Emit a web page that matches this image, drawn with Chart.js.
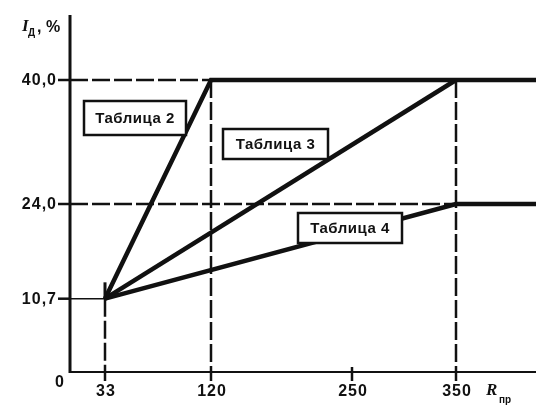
<!DOCTYPE html>
<html lang="ru">
<head>
<meta charset="UTF-8">
<title>I_Д vs R_пр</title>
<script src="https://cdn.jsdelivr.net/npm/chart.js"></script>
<style>
  html, body { margin: 0; padding: 0; background: #fff; }
  #wrap { width: 536px; height: 407px; }
</style>
</head>
<body>
<div id="wrap"><canvas id="chart" width="536" height="407"></canvas></div>
<script>
// values
const xTicks = [33, 120, 250, 350];
const xTickLabels = ['33', '120', '250', '350'];
const yTicks = [10.7, 24.0, 40.0];
const yTickLabels = ['10,7', '24,0', '40,0'];

const table2X = [33, 120, 440];
const table2Y = [10.7, 40.0, 40.0];
const table3X = [33, 350];
const table3Y = [10.7, 40.0];
const table4X = [33, 350, 440];
const table4Y = [10.7, 24.0, 24.0];

// the drawing is schematic: axes are not to scale, so each tick value gets a spot on the axis
const xAnchors = [0, 33, 120, 250, 350];
const xSpots   = [0, 35, 141, 282, 386];
const yAnchors = [0, 10.7, 24.0, 40.0];
const ySpots   = [0, 73.3, 168, 292];

function place(v, anchors, spots) {
  let i = 1;
  while (i < anchors.length - 1 && v > anchors[i]) i++;
  const a0 = anchors[i - 1], a1 = anchors[i];
  return spots[i - 1] + (v - a0) * (spots[i] - spots[i - 1]) / (a1 - a0);
}
const px = v => place(v, xAnchors, xSpots);
const py = v => place(v, yAnchors, ySpots);
const pts = (xs, ys) => xs.map((x, i) => ({ x: px(x), y: py(ys[i]) }));

const black = '#111';
const font = "bold 16px 'Liberation Sans', Arial, sans-serif";

function solid(data, w) {
  return { data, borderColor: black, borderWidth: w, pointRadius: 0, tension: 0, fill: false, borderCapStyle: 'butt' };
}
function dashed(data) {
  return { data, borderColor: black, borderWidth: 2.5, borderDash: [18, 4], pointRadius: 0, fill: false };
}

const guides = [
  dashed(pts([0, 120], [40, 40])),
  dashed(pts([0, 350], [24, 24])),
  dashed(pts([120, 120], [40, 0])),
  dashed(pts([350, 350], [40, 0])),
  dashed(pts([33, 33], [10.7, 0])),
  solid(pts([0, 33], [10.7, 10.7]), 1.5),
  solid(pts([33, 33], [10.7, 13.0]), 3)
];

const schematic = {
  id: 'schematic',
  beforeDatasetsDraw(chart) {
    const { ctx, chartArea: a, scales: { x, y } } = chart;
    ctx.save();
    ctx.strokeStyle = black;
    // axes
    ctx.lineWidth = 3;
    ctx.beginPath(); ctx.moveTo(a.left, a.top); ctx.lineTo(a.left, a.bottom + 1); ctx.stroke();
    ctx.lineWidth = 2;
    ctx.beginPath(); ctx.moveTo(a.left, a.bottom); ctx.lineTo(a.right, a.bottom); ctx.stroke();
    // ticks
    ctx.lineWidth = 2.5;
    xTicks.forEach(v => {
      const X = x.getPixelForValue(px(v));
      ctx.beginPath(); ctx.moveTo(X, a.bottom - (v === 250 ? 5 : 0)); ctx.lineTo(X, a.bottom + 9); ctx.stroke();
    });
    yTicks.forEach(v => {
      const Y = y.getPixelForValue(py(v));
      ctx.beginPath(); ctx.moveTo(a.left - 12, Y); ctx.lineTo(a.left, Y); ctx.stroke();
    });
    ctx.restore();
  },
  afterDatasetsDraw(chart) {
    const { ctx, chartArea: a, scales: { x, y } } = chart;
    ctx.save();
    ctx.fillStyle = black;
    ctx.font = font;
    ctx.letterSpacing = '1px';
    ctx.textBaseline = 'middle';
    ctx.textAlign = 'right';
    yTicks.forEach((v, i) => ctx.fillText(yTickLabels[i], a.left - 13, y.getPixelForValue(py(v)) + 1));
    ctx.fillText('0', a.left - 5, a.bottom + 11);
    ctx.textAlign = 'center';
    xTicks.forEach((v, i) => ctx.fillText(xTickLabels[i], x.getPixelForValue(px(v)) + 1, a.bottom + 20));

    // axis titles
    ctx.letterSpacing = '0px';
    ctx.textAlign = 'left';
    ctx.font = "italic bold 17px 'Liberation Serif', serif";
    ctx.fillText('R', 486, a.bottom + 19);
    ctx.font = "bold 10px 'Liberation Sans', Arial, sans-serif";
    ctx.fillText('пр', 499, a.bottom + 28);
    ctx.font = "italic bold 17px 'Liberation Serif', serif";
    ctx.fillText('I', 22, 27);
    ctx.font = "bold 10px 'Liberation Sans', Arial, sans-serif";
    ctx.fillText('Д', 28, 33);
    ctx.font = font;
    ctx.fillText(', %', 37, 28);

    // callout boxes
    const boxes = [
      { t: 'Таблица 2', x0: 84, y0: 101, x1: 186, y1: 135 },
      { t: 'Таблица 3', x0: 223, y0: 129, x1: 328, y1: 159 },
      { t: 'Таблица 4', x0: 298, y0: 213, x1: 402, y1: 243 }
    ];
    ctx.lineWidth = 2.5;
    ctx.strokeStyle = black;
    ctx.letterSpacing = '0.5px';
    boxes.forEach(b => {
      ctx.fillStyle = '#fff';
      ctx.fillRect(b.x0, b.y0, b.x1 - b.x0, b.y1 - b.y0);
      ctx.strokeRect(b.x0, b.y0, b.x1 - b.x0, b.y1 - b.y0);
      ctx.fillStyle = black;
      ctx.font = "bold 15px 'Liberation Sans', Arial, sans-serif";
      ctx.textAlign = 'center';
      ctx.fillText(b.t, (b.x0 + b.x1) / 2, (b.y0 + b.y1) / 2 + 1);
    });
    ctx.restore();
  }
};

new Chart(document.getElementById('chart'), {
  type: 'line',
  data: {
    datasets: [
      ...guides,
      solid(pts(table2X, table2Y), 4.5),
      solid(pts(table3X, table3Y), 4.5),
      solid(pts(table4X, table4Y), 4.5)
    ]
  },
  options: {
    responsive: false,
    animation: false,
    devicePixelRatio: 1,
    layout: { padding: { left: 70, top: 15, right: 0, bottom: 35 } },
    plugins: { legend: { display: false }, tooltip: { enabled: false } },
    scales: {
      x: { type: 'linear', min: 0, max: 466, display: false },
      y: { type: 'linear', min: 0, max: 357, display: false }
    }
  },
  plugins: [schematic]
});
</script>
</body>
</html>
